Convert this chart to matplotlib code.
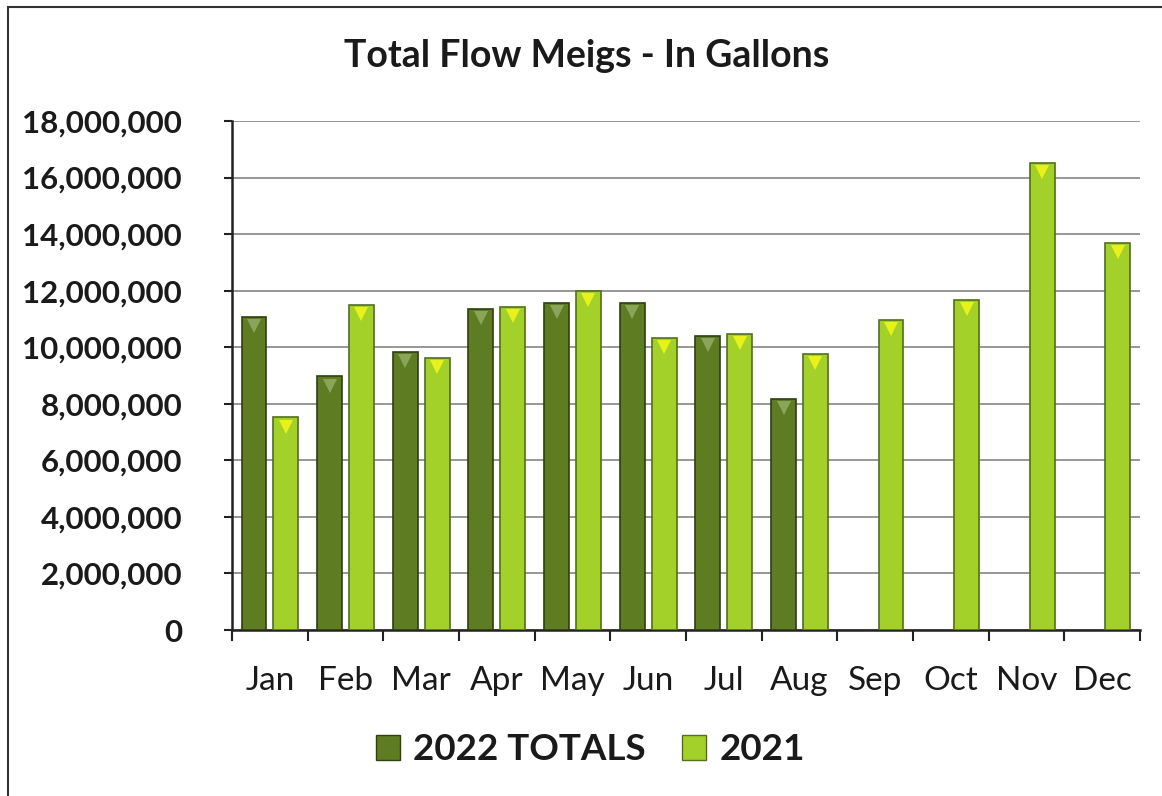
import matplotlib
matplotlib.use("Agg")
import matplotlib.pyplot as plt
import numpy as np
from matplotlib.patches import Rectangle, Patch
from matplotlib.ticker import FuncFormatter

months = ["Jan", "Feb", "Mar", "Apr", "May", "Jun", "Jul", "Aug", "Sep", "Oct", "Nov", "Dec"]
totals_2022 = [11080000, 8970000, 9830000, 11350000, 11560000, 11560000, 10410000, 8180000, None, None, None, None]
values_2021 = [7520000, 11490000, 9620000, 11420000, 11990000, 10330000, 10480000, 9770000, 10960000, 11680000, 16510000, 13700000]
series_names = ["2022 TOTALS", "2021"]
yticks = list(range(0, 18000001, 2000000))

color_2022 = "#5e7d22"
color_2021 = "#a3d12a"
edge_2022 = "#2f3f10"
edge_2021 = "#52701a"

plt.rcParams['font.family'] = ['Lato', 'DejaVu Sans']

fig = plt.figure(figsize=(11.62, 7.96), dpi=100)
ax = fig.add_axes([0.1997, 0.2085, 0.7813, 0.6395])

x = np.arange(len(months))
w = 0.33
off = 0.21
for i, v in enumerate(totals_2022):
    if v is not None:
        ax.bar(x[i] - off, v, width=w, color=color_2022, edgecolor=edge_2022, linewidth=1.2, zorder=3)
        ax.plot(x[i] - off, v - 330000, marker='v', color="#8aa55a", markersize=10, zorder=4, markeredgewidth=0)
for i, v in enumerate(values_2021):
    ax.bar(x[i] + off, v, width=w, color=color_2021, edgecolor=edge_2021, linewidth=1.2, zorder=3)
    ax.plot(x[i] + off, v - 330000, marker='v', color="#e8f21a", markersize=10, zorder=4, markeredgewidth=0)

ax.set_xlim(-0.5, 11.5)
ax.set_ylim(0, 18000000)
ax.set_yticks(yticks)
ax.yaxis.set_major_formatter(FuncFormatter(lambda v, p: f"{int(v):,}"))
ax.grid(axis='y', color='#7a7a7a', linewidth=1.1, zorder=0)
ax.set_axisbelow(True)

ax.set_xticks(x)
ax.set_xticklabels(months, fontsize=24)
ax.set_xticks(np.arange(-0.5, 12, 1), minor=True)
ax.tick_params(axis='x', which='major', length=0, pad=26)
ax.tick_params(axis='x', which='minor', length=8, width=1.5, color='#222222', direction='out')
ax.tick_params(axis='y', length=6, width=1.5, color='#222222', pad=30)
for lab in ax.get_yticklabels():
    lab.set_fontsize(22.5)
    lab.set_fontweight('bold')
    lab.set_color('#1a1a1a')
for lab in ax.get_xticklabels():
    lab.set_color('#1a1a1a')

for s in ['top', 'right']:
    ax.spines[s].set_visible(False)
ax.spines['left'].set_linewidth(1.8)
ax.spines['left'].set_color('#222222')
ax.spines['bottom'].set_linewidth(1.8)
ax.spines['bottom'].set_color('#222222')

fig.text(0.505, 0.93, "Total Flow Meigs - In Gallons", ha='center', va='center',
         fontsize=27, fontweight='bold', color='#1a1a1a')

handles = [Patch(facecolor=color_2022, edgecolor=edge_2022), Patch(facecolor=color_2021, edgecolor=edge_2021)]
leg = fig.legend(handles, series_names, loc='center', bbox_to_anchor=(0.508, 0.058), ncol=2, frameon=False,
                 prop={'weight': 'bold', 'size': 26.5}, handlelength=0.65, handleheight=0.65,
                 handletextpad=0.35, columnspacing=1.0)
for t in leg.get_texts():
    t.set_color('#1a1a1a')

fig.patches.append(Rectangle((0.007, -0.01), 1.0, 1.0 - 0.0088 + 0.01, transform=fig.transFigure,
                             fill=False, edgecolor='#333333', linewidth=1.5))

fig.savefig("out.png", dpi=100)
